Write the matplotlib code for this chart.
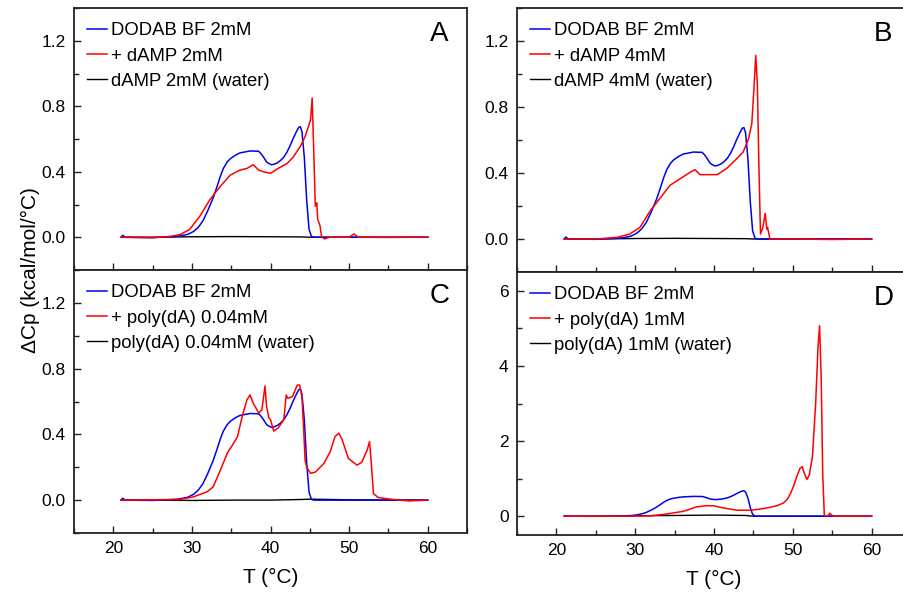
import matplotlib
matplotlib.use("Agg")
import matplotlib.pyplot as plt
from matplotlib.ticker import MultipleLocator, FormatStrFormatter

plt.rcParams['font.family'] = ['Liberation Sans', 'DejaVu Sans']

# DODAB BF 2mM reference scan (same in every panel)
T_dodab = [21.0, 21.2, 21.5, 25, 28, 28.5, 29.5, 30.2, 30.8, 31.4, 32.0, 32.7, 33.2, 33.6, 34.0,
           34.5, 34.9, 35.5, 36.1, 37.4, 38.5, 38.8, 39.1, 39.5, 39.8, 40.1, 40.4, 40.9, 41.3,
           41.7, 42.1, 42.5, 42.9, 43.3, 43.6, 43.8, 44.0, 44.3, 44.6, 44.9, 45.2, 45.5, 50, 55, 60]
cp_dodab = [0.0, 0.012, 0.0, -0.002, 0.005, 0.008, 0.018, 0.035, 0.06, 0.10, 0.16, 0.24, 0.31, 0.37, 0.42,
            0.46, 0.48, 0.50, 0.515, 0.527, 0.525, 0.51, 0.49, 0.46, 0.45, 0.443, 0.445, 0.455, 0.47,
            0.49, 0.52, 0.56, 0.605, 0.645, 0.672, 0.675, 0.645, 0.49, 0.23, 0.05, 0.005, 0.0, 0.0, 0.0, 0.0]

# A: + dAMP 2mM
T_a = [21.0, 25, 27.2, 28.5, 29.7, 31.0, 32.3, 33.6, 34.9, 36.1, 37.0, 37.8, 38.5, 39.1, 40.0,
       40.8, 42.1, 42.9, 43.8, 44.4, 45.1, 45.3, 45.5, 45.7, 45.9, 46.0, 46.3, 46.5, 46.9,
       47.5, 50.0, 50.6, 51.2, 55, 60]
cp_a = [0.0, -0.003, 0.005, 0.016, 0.047, 0.128, 0.23, 0.31, 0.38, 0.41, 0.42, 0.443, 0.41, 0.40, 0.39,
        0.416, 0.45, 0.49, 0.555, 0.615, 0.717, 0.85, 0.53, 0.19, 0.21, 0.11, 0.07, 0.0, -0.01,
        0.0, 0.0, 0.02, 0.0, 0.0, 0.0]

# B: + dAMP 4mM
T_b = [21.0, 25, 27.7, 29.3, 30.6, 31.9, 33.2, 34.4, 35.7, 37.0, 37.6, 38.2, 39.5, 40.4, 41.6,
       42.9, 43.7, 44.4, 44.8, 45.1, 45.3, 45.5, 45.7, 45.9, 46.2, 46.5, 46.7, 46.8, 47.1, 50, 55, 60]
cp_b = [0.0, 0.0, 0.01, 0.03, 0.07, 0.17, 0.25, 0.325, 0.365, 0.405, 0.42, 0.39, 0.39, 0.39, 0.427,
        0.487, 0.527, 0.61, 0.70, 0.94, 1.113, 0.94, 0.44, 0.03, 0.07, 0.155, 0.06, 0.07, 0.0, 0.0, -0.003, 0.0]

# C: + poly(dA) 0.04mM
T_c = [21.0, 25, 28.5, 30.2, 31.9, 32.7, 33.6, 34.5, 35.3, 35.8, 36.4, 37.0, 37.4, 37.8, 38.5,
       38.9, 39.3, 39.5, 39.8, 40.0, 40.4, 41.0, 41.7, 42.0, 42.2, 42.8, 43.4, 43.7, 44.0, 44.2,
       44.4, 44.6, 45.1, 45.7, 46.8, 47.6, 48.2, 48.7, 49.1, 49.9, 51.0, 51.6, 52.3, 52.6, 52.8,
       53.1, 53.7, 55.4, 57.6, 60]
cp_c = [0.0, 0.002, 0.004, 0.02, 0.05, 0.08, 0.18, 0.285, 0.346, 0.386, 0.51, 0.61, 0.64, 0.59, 0.53,
        0.55, 0.695, 0.57, 0.50, 0.49, 0.42, 0.44, 0.49, 0.64, 0.62, 0.63, 0.70, 0.70, 0.63, 0.45,
        0.244, 0.20, 0.163, 0.17, 0.224, 0.295, 0.386, 0.407, 0.37, 0.254, 0.213, 0.23, 0.305, 0.356, 0.24,
        0.04, 0.016, 0.005, -0.005, 0.0]

# D: + poly(dA) 1mM
T_d = [21.0, 28, 31.9, 34.0, 36.1, 37.8, 39.1, 39.9, 41.2, 42.9, 44.6, 45.5, 46.7, 48.0, 48.8,
       49.3, 49.7, 50.1, 50.5, 50.9, 51.2, 51.5, 51.8, 52.1, 52.5, 52.9, 53.2, 53.4, 53.6, 53.8,
       54.0, 54.4, 54.7, 55.1, 60]
cp_d = [0.0, 0.0, 0.01, 0.06, 0.13, 0.25, 0.28, 0.28, 0.22, 0.16, 0.16, 0.18, 0.22, 0.28, 0.35,
        0.45, 0.60, 0.80, 1.05, 1.27, 1.32, 1.12, 0.98, 1.1, 1.6, 3.0, 4.5, 5.07, 3.7, 1.1,
        0.02, 0.0, 0.08, 0.0, 0.0]

# water blanks
T_w = [21.0, 25, 30, 35, 40, 44, 45, 50, 55, 60]
cp_w_ab = [0.0, 0.0, 0.003, 0.004, 0.003, 0.002, 0.0, 0.0, -0.001, 0.0]
cp_w_c = [0.0, 0.0, -0.002, 0.0, 0.0, 0.004, 0.006, 0.002, 0.0, 0.0]
cp_w_d = [0.0, 0.0, 0.01, 0.02, 0.03, 0.02, 0.0, 0.0, 0.0, 0.0]

W, H = 904, 592
fig = plt.figure(figsize=(W / 100, H / 100), dpi=100)

def box(x0, y0, x1, y1):
    return [x0 / W, 1 - y1 / H, (x1 - x0) / W, (y1 - y0) / H]

ax_a = fig.add_axes(box(74, 8, 467, 270))
ax_b = fig.add_axes(box(517, 8, 911, 272))
ax_c = fig.add_axes(box(74, 270, 467, 533))
ax_d = fig.add_axes(box(517, 272, 911, 535))

panels = [
    (ax_a, 'A', T_a, cp_a, cp_w_ab, ['DODAB BF 2mM', '+ dAMP 2mM', 'dAMP 2mM (water)']),
    (ax_b, 'B', T_b, cp_b, cp_w_ab, ['DODAB BF 2mM', '+ dAMP 4mM', 'dAMP 4mM (water)']),
    (ax_c, 'C', T_c, cp_c, cp_w_c, ['DODAB BF 2mM', '+ poly(dA) 0.04mM', 'poly(dA) 0.04mM (water)']),
    (ax_d, 'D', T_d, cp_d, cp_w_d, ['DODAB BF 2mM', '+ poly(dA) 1mM', 'poly(dA) 1mM (water)']),
]

for ax, letter, tx, cy, cw, labels in panels:
    lw_ = ax.plot(T_w, cw, color='black', lw=1.0, zorder=2)[0]
    lb = ax.plot(T_dodab, cp_dodab, color='#0000ee', lw=1.1, zorder=3)[0]
    lr = ax.plot(tx, cy, color='#ff0000', lw=1.1, zorder=4)[0]
    ax.set_xlim(15, 65)
    ax.xaxis.set_major_locator(MultipleLocator(10))
    ax.xaxis.set_minor_locator(MultipleLocator(5))
    if letter == 'D':
        ax.set_ylim(-0.5, 6.5)
        ax.yaxis.set_major_locator(MultipleLocator(2))
        ax.yaxis.set_minor_locator(MultipleLocator(1))
    else:
        ax.set_ylim(-0.2, 1.4)
        ax.yaxis.set_major_locator(MultipleLocator(0.4))
        ax.yaxis.set_minor_locator(MultipleLocator(0.2))
        ax.yaxis.set_major_formatter(FormatStrFormatter('%.1f'))
    ax.tick_params(which='both', direction='in', labelsize=12.5, top=False, right=False,
                   width=1.0, colors='#222222', labelcolor='black')
    ax.tick_params(which='major', length=5, pad=6)
    ax.tick_params(which='minor', length=3.5)
    for s in ax.spines.values():
        s.set_linewidth(1.3)
        s.set_color('#222222')
    if letter in ('A', 'B'):
        ax.tick_params(labelbottom=False)
    else:
        ax.set_xlabel('T (°C)', fontsize=15, labelpad=8)
    ax.legend([lb, lr, lw_], labels, loc='upper left', bbox_to_anchor=(0.02, 0.967),
              frameon=False, fontsize=13.3, handlelength=1.05, handletextpad=0.25,
              labelspacing=0.45, borderaxespad=0.0, borderpad=0.3)
    ax.text(0.93, 0.9, letter, transform=ax.transAxes, fontsize=20, ha='center', va='center')

fig.text(30 / W, 1 - 270 / H, 'ΔCp (kcal/mol/°C)', rotation=90, fontsize=15,
         ha='center', va='center')

plt.savefig('out.png', dpi=100)
